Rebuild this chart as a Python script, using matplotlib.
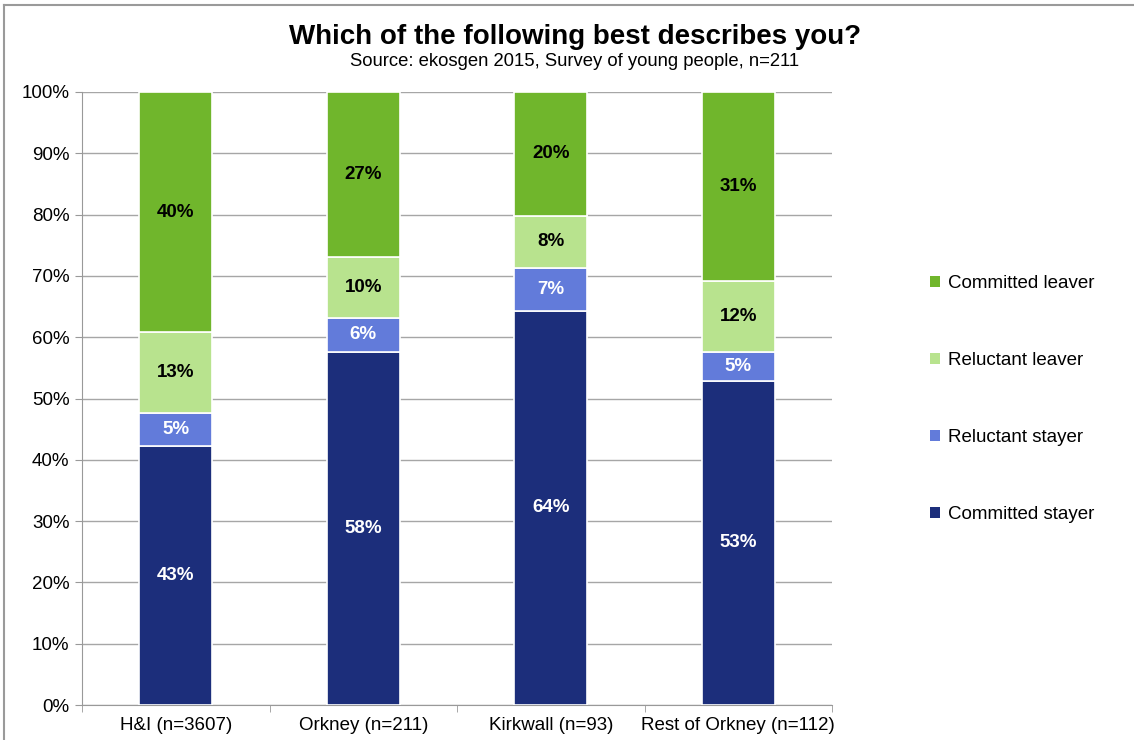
import matplotlib.pyplot as plt
import numpy as np
from matplotlib.patches import Patch

plt.rcParams['font.family'] = ['Liberation Sans', 'DejaVu Sans']

groups = ['H&I (n=3607)', 'Orkney (n=211)', 'Kirkwall (n=93)', 'Rest of Orkney (n=112)']
series = ['Committed stayer', 'Reluctant stayer', 'Reluctant leaver', 'Committed leaver']
committed_stayer = [42.3, 57.6, 64.3, 52.9]
reluctant_stayer = [5.3, 5.6, 7.0, 4.7]
reluctant_leaver = [13.2, 9.9, 8.5, 11.6]
committed_leaver = [39.2, 26.9, 20.2, 30.8]
# labels as printed on the chart
lab_cs = [43, 58, 64, 53]
lab_rs = [5, 6, 7, 5]
lab_rl = [13, 10, 8, 12]
lab_cl = [40, 27, 20, 31]

colors = ['#1C2E7B', '#627BDA', '#B8E38E', '#70B62C']
txtcol = ['white', 'white', 'black', 'black']

fig = plt.figure(figsize=(11.34, 7.4), dpi=100)
ax = fig.add_axes([82/1134, 35/740, 750/1134, 613/740])

x = np.arange(len(groups))
vals = [committed_stayer, reluctant_stayer, reluctant_leaver, committed_leaver]
labs = [lab_cs, lab_rs, lab_rl, lab_cl]
bottom = np.zeros(len(groups))
for v, l, c, tc, name in zip(vals, labs, colors, txtcol, series):
    v = np.array(v)
    ax.bar(x, v, 0.39, bottom=bottom, color=c, edgecolor='white', linewidth=1.2, zorder=3)
    for xi, b, h, t in zip(x, bottom, v, l):
        ax.text(xi, b + h/2, '%d%%' % t, ha='center', va='center', color=tc,
                fontsize=13.5, fontweight='bold', zorder=4)
    bottom += v

ax.set_xlim(-0.5, 3.5)
ax.set_ylim(0, 100)
ax.set_yticks(np.arange(0, 101, 10))
ax.set_yticklabels(['%d%%' % t for t in range(0, 101, 10)], fontsize=13.5)
ax.set_xticks(x)
ax.set_xticklabels(groups, fontsize=13.5)
ax.set_xticks(np.arange(-0.5, 3.6, 1), minor=True)
ax.tick_params(axis='x', which='major', length=0, pad=9)
ax.tick_params(axis='x', which='minor', length=5, color='#999999')
ax.tick_params(axis='y', length=5, color='#999999', pad=4)
ax.grid(axis='y', color='#A6A6A6', linewidth=1, zorder=0)
for s in ['top', 'right']:
    ax.spines[s].set_visible(False)
ax.spines['left'].set_color('#999999')
ax.spines['bottom'].set_color('#999999')

handles = [Patch(facecolor=c, edgecolor='none', label=n) for c, n in zip(colors, series)]
fig.legend(handles=handles[::-1], loc='center left', bbox_to_anchor=(913/1134, 1 - 399/740),
           frameon=False, fontsize=13.5, labelspacing=3.2, handlelength=0.55, handleheight=0.55,
           handletextpad=0.4)

fig.text(575/1134, 1 - 37/740, 'Which of the following best describes you?', ha='center', va='center',
         fontsize=20, fontweight='bold')
fig.text(575/1134, 1 - 62/740, 'Source: ekosgen 2015, Survey of young people, n=211', ha='center', va='center',
         fontsize=13.3)

# outer chart border (top and left visible)
fig.add_artist(plt.Line2D([4/1134, 1], [1 - 5/740, 1 - 5/740], color='#9a9a9a', linewidth=1.5))
fig.add_artist(plt.Line2D([4/1134, 4/1134], [0, 1 - 5/740], color='#9a9a9a', linewidth=1.5))

fig.savefig('out.png', dpi=100)
